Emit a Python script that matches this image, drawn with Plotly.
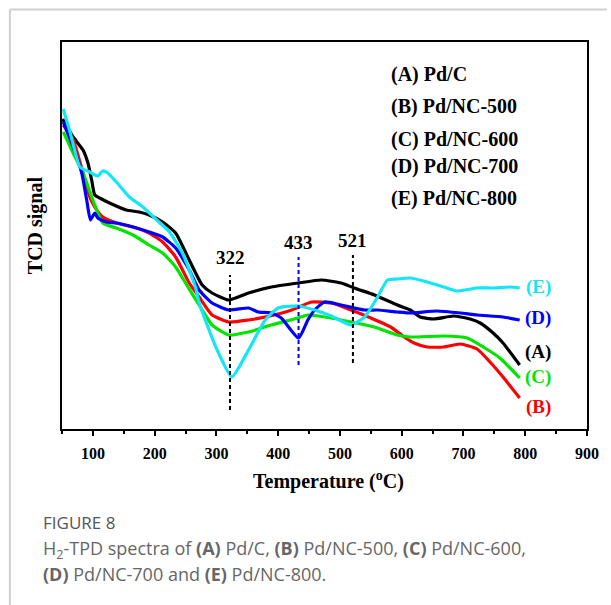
import plotly.graph_objects as go

# ---------------- data ----------------
T_A = [51, 68, 84, 92, 98, 103, 111, 127, 154, 175, 191, 213, 234, 256, 277, 293, 320, 352, 389, 432, 470, 502, 523, 556, 593, 614, 630, 652, 684, 711, 727, 748, 764, 791]
V_A = [310, 292, 279, 266, 249, 234, 231, 226, 219, 217, 214, 207, 196, 169, 144, 136, 129, 136, 142, 146, 149, 146, 141, 134, 124, 119, 112, 110, 113, 110, 106, 96, 86, 64]

T_B = [52, 68, 84, 95, 103, 116, 138, 165, 191, 213, 234, 256, 272, 293, 320, 352, 379, 422, 454, 486, 518, 550, 582, 604, 620, 641, 668, 695, 722, 743, 764, 791]
V_B = [304, 289, 256, 232, 222, 212, 206, 202, 196, 187, 172, 146, 132, 114, 107, 109, 112, 119, 127, 126, 119, 111, 102, 92, 86, 82, 82, 85, 80, 67, 52, 31]

T_C = [52, 68, 84, 100, 116, 138, 165, 191, 213, 234, 250, 272, 293, 320, 352, 389, 432, 448, 486, 518, 556, 593, 614, 668, 706, 732, 759, 791]
V_C = [297, 276, 256, 229, 206, 201, 194, 184, 176, 162, 146, 124, 104, 94, 97, 104, 111, 114, 111, 107, 102, 94, 92, 93, 91, 82, 71, 51]

T_D = [52, 68, 82, 90, 96, 103, 108, 122, 138, 165, 191, 213, 234, 256, 272, 293, 320, 352, 368, 389, 405, 433, 448, 459, 475, 502, 540, 561, 593, 614, 657, 695, 722, 764, 791]
V_D = [307, 282, 256, 229, 209, 216, 211, 207, 206, 202, 197, 192, 181, 159, 139, 126, 119, 121, 117, 116, 111, 91, 109, 119, 127, 124, 119, 119, 117, 116, 118, 116, 114, 112, 109]

T_E = [52, 63, 79, 95, 108, 116, 124, 138, 159, 181, 207, 224, 245, 266, 272, 282, 299, 325, 352, 379, 400, 432, 459, 486, 518, 540, 561, 577, 593, 614, 641, 668, 689, 722, 748, 775, 791]
V_E = [320, 297, 262, 257, 253, 258, 256, 247, 232, 222, 207, 197, 176, 142, 126, 109, 82, 52, 79, 109, 121, 123, 119, 113, 104, 112, 132, 149, 150, 151, 147, 142, 138, 141, 141, 142, 141]

series_names = ["(A)", "(B)", "(C)", "(D)", "(E)"]
series_colors = ["#000000", "#ff0000", "#00e400", "#0000ff", "#14e6f5"]
legend_text = ["(A) Pd/C", "(B) Pd/NC-500", "(C) Pd/NC-600", "(D) Pd/NC-700", "(E) Pd/NC-800"]
legend_y = [355, 323, 290, 263, 231]
end_label_y = [77, 22, 52, 111, 142]   # A, B, C, D, E

peak_T = [322, 433, 521]
peak_low = [19, 64, 66]
peak_high = [154, 172, 174]
peak_label_y = [172, 187, 189]
peak_colors = ["#000000", "#0000ff", "#000000"]

x_ticks = [100, 200, 300, 400, 500, 600, 700, 800, 900]

# ---------------- figure ----------------
W, H = 611, 605
L, R, T, B = 62, 20, 42, 176
PW, PH = W - L - R, H - T - B

def px(x):
    return (x - L) / PW

def py(y):
    return (H - B - y) / PH

SERIF = "Liberation Serif, Times New Roman, serif"
SANS = "Open Sans, Noto Sans, sans-serif"

fig = go.Figure()

data = [(T_A, V_A), (T_B, V_B), (T_C, V_C), (T_D, V_D), (T_E, V_E)]
for (tx, vy), name, col in zip(data, series_names, series_colors):
    fig.add_trace(go.Scatter(x=tx, y=vy, mode="lines", name=name,
                             line=dict(color=col, width=3.2, shape="spline", smoothing=0.5),
                             showlegend=False, hoverinfo="skip"))

# dashed peak markers
for t, lo, hi, col in zip(peak_T, peak_low, peak_high, peak_colors):
    fig.add_trace(go.Scatter(x=[t, t], y=[lo, hi], mode="lines",
                             line=dict(color=col, width=2, dash="4px,3px"),
                             showlegend=False, hoverinfo="skip"))

annotations = []
for t, yl in zip(peak_T, peak_label_y):
    annotations.append(dict(x=t, y=yl, xref="x", yref="y", text=f"<b>{t}</b>",
                            showarrow=False, xanchor="center", yanchor="middle",
                            font=dict(family=SERIF, size=19, color="black")))

for txt, yl in zip(legend_text, legend_y):
    annotations.append(dict(x=580, y=yl, xref="x", yref="y", text=f"<b>{txt}</b>",
                            showarrow=False, xanchor="left", yanchor="middle",
                            font=dict(family=SERIF, size=20, color="black")))

for name, col, yl in zip(series_names, series_colors, end_label_y):
    annotations.append(dict(x=821, y=yl, xref="x", yref="y", text=f"<b>{name}</b>",
                            showarrow=False, xanchor="center", yanchor="middle",
                            font=dict(family=SERIF, size=19, color=col)))

# axis titles
annotations.append(dict(x=px(331), y=py(480), xref="paper", yref="paper",
                        text="<b>Temperature (<sup>o</sup>C)</b>", showarrow=False,
                        xanchor="center", yanchor="middle",
                        font=dict(family=SERIF, size=20, color="black")))
annotations.append(dict(x=px(36), y=py(225), xref="paper", yref="paper",
                        text="<b>TCD signal</b>", showarrow=False, textangle=-90,
                        xanchor="center", yanchor="middle",
                        font=dict(family=SERIF, size=20, color="black")))

# caption
annotations.append(dict(x=px(41), y=py(522), xref="paper", yref="paper",
                        text="FIGURE 8", showarrow=False, xanchor="left", yanchor="middle",
                        font=dict(family=SANS, size=17, color="#555555")))
annotations.append(dict(x=px(41), y=py(549), xref="paper", yref="paper",
                        text="H<sub>2</sub>-TPD spectra of <b>(A)</b> Pd/C, <b>(B)</b> Pd/NC-500, <b>(C)</b> Pd/NC-600,",
                        showarrow=False, xanchor="left", yanchor="middle",
                        font=dict(family=SANS, size=18, color="#666666")))
annotations.append(dict(x=px(41), y=py(574), xref="paper", yref="paper",
                        text="<b>(D)</b> Pd/NC-700 and <b>(E)</b> Pd/NC-800.",
                        showarrow=False, xanchor="left", yanchor="middle",
                        font=dict(family=SANS, size=18, color="#666666")))

shapes = [
    dict(type="line", xref="paper", yref="paper", x0=px(9.5), x1=px(611), y0=py(9.5), y1=py(9.5),
         line=dict(color="#cfcfcf", width=2)),
    dict(type="line", xref="paper", yref="paper", x0=px(9.5), x1=px(9.5), y0=py(9.5), y1=py(605),
         line=dict(color="#cfcfcf", width=2)),
]

fig.update_layout(
    width=W, height=H,
    margin=dict(l=L, r=R, t=T, b=B, pad=0),
    paper_bgcolor="white", plot_bgcolor="white",
    annotations=annotations, shapes=shapes,
    xaxis=dict(range=[50, 900], tickvals=x_ticks, ticktext=[f"<b>{v}</b>" for v in x_ticks],
               ticks="outside", ticklen=5, tickwidth=1.5, tickcolor="black",
               minor=dict(dtick=50, tick0=50, ticks="outside", ticklen=3, tickwidth=1.5, tickcolor="black"),
               showline=True, linecolor="black", linewidth=2, mirror=True,
               showgrid=False, zeroline=False,
               tickfont=dict(family=SERIF, size=16, color="black"), ticklabelstandoff=4),
    yaxis=dict(range=[0, 387], showticklabels=False, ticks="",
               showline=True, linecolor="black", linewidth=2, mirror=True,
               showgrid=False, zeroline=False),
)

fig.write_html("out.html", config={"displayModeBar": False},
               post_script="document.body.style.margin='0px';document.body.style.overflow='hidden';")
